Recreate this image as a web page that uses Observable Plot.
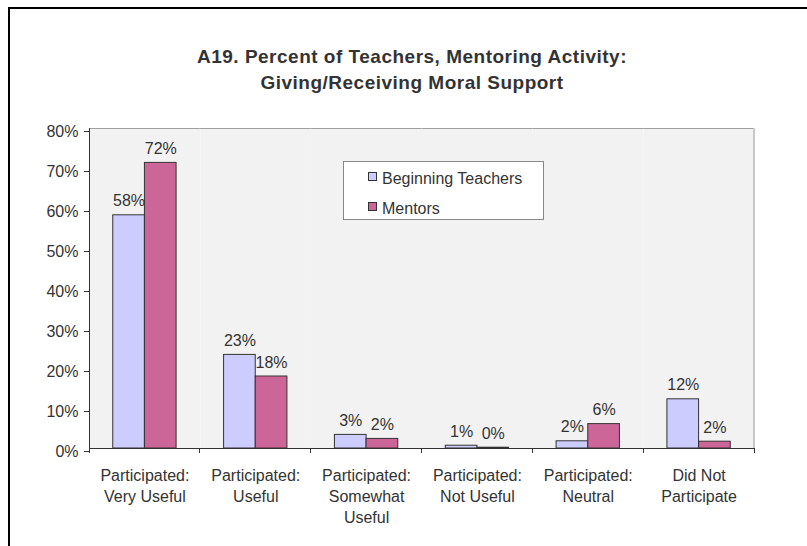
<!DOCTYPE html>
<html>
<head>
<meta charset="utf-8">
<script src="https://cdn.jsdelivr.net/npm/d3@7"></script>
<script src="https://cdn.jsdelivr.net/npm/@observablehq/plot@0.6"></script>
<style>
  html, body { margin: 0; padding: 0; background: #fff; }
  #wrap { position: relative; width: 807px; height: 546px; overflow: hidden; font-family: "Liberation Sans", Arial, sans-serif; }
  #border { position: absolute; left: 8px; top: 7px; width: 1000px; height: 1000px; border-left: 2px solid #000; border-top: 2px solid #000; pointer-events: none; }
  #title { box-sizing: border-box; height: 110px; padding-top: 44px; padding-left: 17px; text-align: center; font-weight: bold; font-size: 19px; letter-spacing: 0.5px; line-height: 26px; color: #333; }
  #chart svg { display: block; }
  #legend { position: absolute; left: 343px; top: 161px; width: 199px; height: 57px; background: #fff; border: 1px solid #888; }
  .sw { position: absolute; width: 7px; height: 7px; border: 1px solid #333; }
  .lt { position: absolute; font-size: 16px; line-height: 18px; color: #333; white-space: nowrap; }
</style>
</head>
<body>
<div id="wrap">
  <div id="title">A19. Percent of Teachers, Mentoring Activity:<br>Giving/Receiving Moral Support</div>
  <div id="chart"></div>
  <div id="legend"></div>
  <div id="border"></div>
</div>
<script>
const categories = [
  "Participated:\nVery Useful",
  "Participated:\nUseful",
  "Participated:\nSomewhat\nUseful",
  "Participated:\nNot Useful",
  "Participated:\nNeutral",
  "Did Not\nParticipate"
];
const series = ["Beginning Teachers", "Mentors"];
const teachers = [58.3, 23.4, 3.4, 0.7, 1.8, 12.3];
const mentors = [71.4, 18.0, 2.4, 0.2, 6.1, 1.7];
const teacherLabels = ["58%", "23%", "3%", "1%", "2%", "12%"];
const mentorLabels = ["72%", "18%", "2%", "0%", "6%", "2%"];
const yTicks = [0, 10, 20, 30, 40, 50, 60, 70, 80];
const colors = ["#CCCCFF", "#CC6699"];

const data = categories.flatMap((c, i) => [
  {category: c, series: series[0], value: teachers[i], label: teacherLabels[i]},
  {category: c, series: series[1], value: mentors[i], label: mentorLabels[i]}
]);

const chart = Plot.plot({
  width: 807,
  height: 436,
  marginLeft: 89,
  marginRight: 53,
  marginTop: 18,
  marginBottom: 98,
  style: {fontFamily: "'Liberation Sans', Arial, sans-serif", fontSize: "16px", color: "#333", background: "transparent"},
  fx: {domain: categories, padding: 0, round: false, label: null},
  x: {domain: series, paddingInner: 0, paddingOuter: 0.75, round: false, axis: null},
  y: {domain: [0, 80]},
  color: {domain: series, range: colors},
  marks: [
    Plot.frame({fill: "#F2F2F2", stroke: null}),
    Plot.ruleY([80], {stroke: "#A0A0A0"}),
    Plot.barY(data, {fx: "category", x: "series", y: "value", fill: "series", stroke: "#333", strokeWidth: 1}),
    Plot.text(data, {fx: "category", x: "series", y: "value", text: "label", lineAnchor: "bottom", dy: -9, fontSize: 16}),
    Plot.ruleY([0], {stroke: "#333"}),
    Plot.axisY({ticks: yTicks, tickFormat: d => d + "%", tickSize: 5, tickPadding: 6, dy: 3, label: null, fontSize: 16, stroke: "#333"}),
    Plot.axisFx({anchor: "bottom", tickSize: 0, tickPadding: 18, lineHeight: 1.3, label: null, fontSize: 16})
  ]
});
document.getElementById("chart").appendChild(chart);

// axis line, category boundary ticks and right border, placed with the plot's own scales
const fx = chart.scale("fx");
const ys = chart.scale("y");
const y0 = ys.apply(0), yTop = ys.apply(80);
const edges = categories.map(c => fx.apply(c)).concat([fx.apply(categories[categories.length - 1]) + fx.bandwidth]);
const g = d3.select(chart).append("g").attr("shape-rendering", "crispEdges");
g.append("line").attr("x1", edges[edges.length - 1]).attr("x2", edges[edges.length - 1])
  .attr("y1", yTop).attr("y2", y0).attr("stroke", "#C8C8C8").attr("stroke-width", 2);
g.append("line").attr("x1", edges[0]).attr("x2", edges[0]).attr("y1", yTop).attr("y2", y0).attr("stroke", "#333");
g.selectAll("line.bt").data(edges).join("line").attr("class", "bt")
  .attr("x1", d => d).attr("x2", d => d).attr("y1", y0).attr("y2", y0 + 5).attr("stroke", "#333");

// legend
const legend = document.getElementById("legend");
series.forEach((s, i) => {
  const sw = document.createElement("div");
  sw.className = "sw";
  sw.style.left = "24px";
  sw.style.top = (10 + i * 29.5) + "px";
  sw.style.background = colors[i];
  legend.appendChild(sw);
  const t = document.createElement("div");
  t.className = "lt";
  t.style.left = "38px";
  t.style.top = (8 + i * 30) + "px";
  t.textContent = s;
  legend.appendChild(t);
});
</script>
</body>
</html>
